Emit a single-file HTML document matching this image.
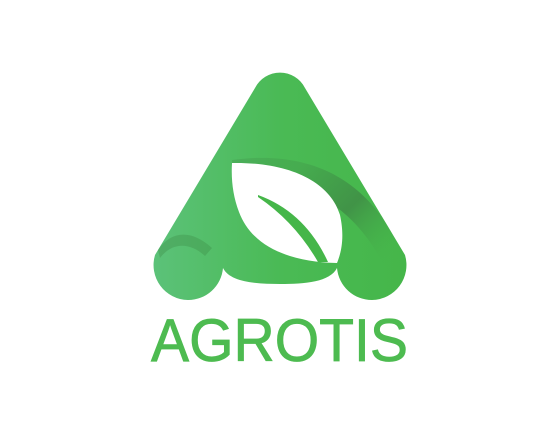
<!DOCTYPE html>
<html><head><meta charset="utf-8"><style>
html,body{margin:0;padding:0;background:#fff;width:558px;height:447px;overflow:hidden}
</style></head><body>
<svg width="558" height="447" viewBox="0 0 558 447">
<defs>
<linearGradient id="g" x1="150" y1="0" x2="410" y2="0" gradientUnits="userSpaceOnUse">
<stop offset="0" stop-color="#5cc27a"/><stop offset="0.5" stop-color="#4aba55"/><stop offset="1" stop-color="#45b649"/>
</linearGradient>
<linearGradient id="d" x1="300" y1="165" x2="390" y2="260" gradientUnits="userSpaceOnUse">
<stop offset="0" stop-color="#3f8e47" stop-opacity="0.3"/><stop offset="0.5" stop-color="#3f8a45" stop-opacity="0.8"/><stop offset="1" stop-color="#45b649" stop-opacity="0"/>
</linearGradient>
</defs>
<path d="M188,300 A35,35 0 0 1 155,255 L255,88 A28,28 0 0 1 305,88 L405,255 A35,35 0 0 1 372,300 A35,35 0 0 1 337,268 C330,282 305,284 280,284 C255,284 230,282 223,268 A35,35 0 0 1 188,300 Z" fill="url(#g)"/>
<path d="M232,160 C305,150 365,175 398,245 L385,268 C355,205 305,180 232,170 Z" fill="url(#d)"/>
<path d="M158,250 C170,232 190,228 212,248 L205,256 C190,242 172,242 160,258 Z" fill="#3d8a45" opacity="0.35"/>
<path d="M232,163 C290,162 330,182 340,215 C345,238 341,253 337,263 C290,262 252,247 239,212 C233,196 231,180 232,163 Z" fill="#fff"/>
<path d="M258,195 Q305,212 328,262 L318,262 Q295,222 258,197 Z" fill="#45b649"/>
<text x="151" y="361" textLength="257" lengthAdjust="spacingAndGlyphs" font-family="Liberation Sans, sans-serif" font-size="60" fill="#4dbb50" stroke="#4dbb50" stroke-width="0.8">AGROTIS</text>
</svg>
</body></html>
